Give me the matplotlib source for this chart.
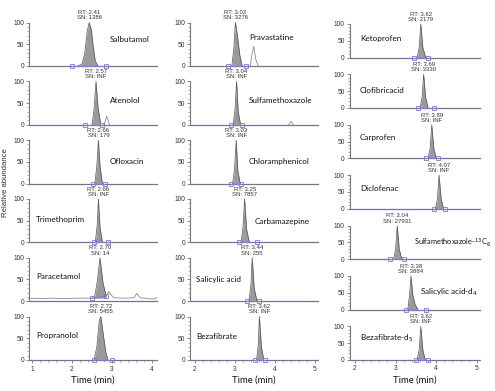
import matplotlib
matplotlib.use("Agg")
import matplotlib.pyplot as plt
from matplotlib.ticker import MultipleLocator

# ---- data ---------------------------------------------------------------
# compound name, RT, SN, label position (t, % abundance) per panel
col1_names = ["Salbutamol", "Atenolol", "Ofloxacin", "Trimethoprim", "Paracetamol", "Propranolol"]
col1_rt = ["2.41", "2.57", "2.66", "2.66", "2.70", "2.72"]
col1_sn = ["1386", "INF", "179", "INF", "14", "5455"]
col1_label_t = [2.95, 2.95, 2.95, 1.1, 1.1, 1.1]
col1_label_y = [60, 56, 50, 53, 56, 57]

col2_names = ["Pravastatine", "Sulfamethoxazole", "Chloramphenicol", "Carbamazepine", "Salicylic acid", "Bezafibrate"]
col2_rt = ["3.02", "3.04", "3.03", "3.25", "3.44", "3.62"]
col2_sn = ["3276", "INF", "INF", "7857", "255", "INF"]
col2_label_t = [3.35, 3.35, 3.35, 3.48, 2.02, 2.02]
col2_label_y = [66, 57, 50, 49, 51, 55]

col3_names = ["Ketoprofen", "Clofibricacid", "Carprofen", "Diclofenac",
              r"Sulfamethoxazole-$^{13}$C$_6$", r"Salicylic acid-d$_4$", r"Bezafibrate-d$_5$"]
col3_rt = ["3.62", "3.69", "3.89", "4.07", "3.04", "3.38", "3.62"]
col3_sn = ["2179", "3330", "INF", "INF", "27931", "3884", "INF"]
col3_label_t = [2.12, 2.12, 2.12, 2.12, 3.45, 3.6, 2.12]
col3_label_y = [56, 53, 62, 59, 49, 51, 65]

# main (filled) peak traces: time (min), relative abundance (%)
salbutamol_t = [2.15, 2.25, 2.32, 2.38, 2.43, 2.48, 2.53, 2.58, 2.65]
salbutamol_y = [0, 5, 30, 80, 100, 85, 45, 12, 0]
atenolol_t = [2.50, 2.55, 2.60, 2.65, 2.72]
atenolol_y = [0, 35, 100, 40, 0]
ofloxacin_t = [2.57, 2.62, 2.66, 2.70, 2.76]
ofloxacin_y = [0, 40, 100, 40, 0]
trimethoprim_t = [2.58, 2.63, 2.66, 2.70, 2.76]
trimethoprim_y = [0, 40, 100, 35, 0]
paracetamol_t = [2.56, 2.63, 2.70, 2.77, 2.85]
paracetamol_y = [7, 45, 100, 45, 12]
propranolol_t = [2.55, 2.62, 2.68, 2.72, 2.78, 2.85, 2.90]
propranolol_y = [0, 30, 90, 100, 60, 15, 0]

pravastatine_t = [2.92, 2.97, 3.01, 3.06, 3.12, 3.18]
pravastatine_y = [0, 40, 100, 70, 25, 0]
sulfamethoxazole_t = [2.95, 3.00, 3.04, 3.08, 3.14]
sulfamethoxazole_y = [0, 35, 100, 30, 0]
chloramphenicol_t = [2.94, 2.99, 3.03, 3.07, 3.13]
chloramphenicol_y = [0, 35, 100, 30, 0]
carbamazepine_t = [3.15, 3.20, 3.24, 3.29, 3.36]
carbamazepine_y = [0, 35, 100, 30, 0]
salicylic_t = [3.35, 3.40, 3.43, 3.48, 3.55]
salicylic_y = [0, 40, 100, 30, 0]
bezafibrate_t = [3.54, 3.58, 3.61, 3.66, 3.72]
bezafibrate_y = [0, 35, 100, 30, 0]

ketoprofen_t = [3.53, 3.58, 3.62, 3.67, 3.74]
ketoprofen_y = [0, 30, 100, 30, 0]
clofibric_t = [3.60, 3.65, 3.69, 3.74, 3.80]
clofibric_y = [0, 30, 100, 30, 0]
carprofen_t = [3.80, 3.85, 3.89, 3.94, 4.00]
carprofen_y = [0, 30, 100, 30, 0]
diclofenac_t = [3.98, 4.03, 4.07, 4.12, 4.18]
diclofenac_y = [0, 30, 100, 30, 0]
sulfa13c_t = [2.95, 3.00, 3.04, 3.09, 3.15]
sulfa13c_y = [0, 30, 100, 30, 0]
salicylic_d4_t = [3.30, 3.34, 3.38, 3.42, 3.48, 3.55]
salicylic_d4_y = [0, 40, 100, 45, 15, 0]
bezafibrate_d5_t = [3.53, 3.58, 3.62, 3.67, 3.73]
bezafibrate_d5_y = [0, 30, 100, 30, 0]

col1_peaks = [(salbutamol_t, salbutamol_y), (atenolol_t, atenolol_y), (ofloxacin_t, ofloxacin_y),
              (trimethoprim_t, trimethoprim_y), (paracetamol_t, paracetamol_y),
              (propranolol_t, propranolol_y)]
col2_peaks = [(pravastatine_t, pravastatine_y), (sulfamethoxazole_t, sulfamethoxazole_y),
              (chloramphenicol_t, chloramphenicol_y), (carbamazepine_t, carbamazepine_y),
              (salicylic_t, salicylic_y), (bezafibrate_t, bezafibrate_y)]
col3_peaks = [(ketoprofen_t, ketoprofen_y), (clofibric_t, clofibric_y), (carprofen_t, carprofen_y),
              (diclofenac_t, diclofenac_y), (sulfa13c_t, sulfa13c_y),
              (salicylic_d4_t, salicylic_d4_y), (bezafibrate_d5_t, bezafibrate_d5_y)]

# integration boundaries (blue squares)
col1_bounds = [(2.00, 2.85), (2.33, 2.75), (2.53, 2.83), (2.55, 2.90), (2.50, 2.85), (2.55, 3.00)]
col2_bounds = [(2.83, 3.28), (2.90, 3.17), (2.90, 3.15), (3.10, 3.55), (3.30, 3.60), (3.50, 3.75)]
col3_bounds = [(3.45, 3.80), (3.55, 3.95), (3.75, 4.05), (3.95, 4.22), (2.85, 3.20), (3.25, 3.75), (3.50, 3.80)]

# secondary (unfilled) traces
paracetamol_base_t = [0.92, 1.2, 1.5, 1.8, 2.1, 2.4, 2.56, 2.85, 2.92, 2.97, 3.05, 3.3, 3.55,
                      3.62, 3.70, 3.90, 4.05, 4.12]
paracetamol_base_y = [7, 6, 7, 6, 7, 7, 7, 12, 22, 15, 8, 7, 8, 18, 8, 6, 5, 8]
atenolol_2nd_t = [2.80, 2.87, 2.94]
atenolol_2nd_y = [0, 20, 0]
pravastatine_2nd_t = [3.38, 3.43, 3.47, 3.52, 3.58]
pravastatine_2nd_y = [0, 30, 45, 15, 0]
sulfamethoxazole_2nd_t = [4.34, 4.40, 4.46]
sulfamethoxazole_2nd_y = [0, 8, 0]

col1_extra = [None, (atenolol_2nd_t, atenolol_2nd_y), None, None,
              (paracetamol_base_t, paracetamol_base_y), None]
col2_extra = [(pravastatine_2nd_t, pravastatine_2nd_y), (sulfamethoxazole_2nd_t, sulfamethoxazole_2nd_y),
              None, None, None, None]
col3_extra = [None] * 7

# ---- styling -------------------------------------------------------------
W, H = 495, 391
AX_COLOR = "#74748f"
FILL = "#9a9a9a"
EDGE = "#555555"
BOUND = "#7a7ad0"
TXT = "#333333"
NAME_FONT = ["Lato", "DejaVu Sans"]
SMALL_FONT = ["Liberation Sans", "DejaVu Sans"]

fig = plt.figure(figsize=(W / 100, H / 100), dpi=100)
fig.patch.set_facecolor("white")
name_texts = []


def px_axes(left, zero_y, width, height):
    return fig.add_axes([left / W, (H - zero_y) / H, width / W, height / H])


def draw_panel(ax, xlim, peak, bounds, extra, name, rt, sn, lab_t, lab_y, bottom):
    t, y = peak
    ax.set_xlim(*xlim)
    ax.set_ylim(0, 100)
    ax.axhline(0, color=AX_COLOR, lw=0.9, zorder=1, clip_on=False)
    if extra is not None:
        ax.plot(extra[0], extra[1], color="#8a8a8a", lw=0.6, zorder=2, clip_on=False)
    base = min(y[0], y[-1])
    ax.fill_between(t, y, base, color=FILL, lw=0, zorder=3, clip_on=False)
    ax.plot(t, y, color=EDGE, lw=0.5, zorder=4, clip_on=False)
    b0 = y[0] if extra is not None and base > 0 else 0
    ax.plot(bounds, [b0, y[-1] if b0 else 0], color=BOUND, lw=0.8, zorder=4, clip_on=False)
    ax.plot(bounds, [b0, y[-1] if b0 else 0], ls="none", marker="s", ms=3.2, mfc="none",
            mec=BOUND, mew=0.6, zorder=5, clip_on=False)
    apex = t[y.index(max(y))]
    ax.annotate(f"RT: {rt}\nSN: {sn}", xy=(apex, 100), xytext=(0, 1.5),
                textcoords="offset points", ha="center", va="bottom",
                fontsize=4.3, family=SMALL_FONT, color=TXT, linespacing=1.05)
    name_texts.append(ax.text(lab_t, lab_y, name, fontsize=5.9, family=NAME_FONT,
                              color="#111111", ha="left", va="center"))
    for s in ("top", "right"):
        ax.spines[s].set_visible(False)
    ax.spines["bottom"].set_visible(False)
    ax.spines["left"].set_color(AX_COLOR)
    ax.spines["left"].set_linewidth(0.8)
    ax.set_yticks([0, 50, 100])
    ax.yaxis.set_minor_locator(MultipleLocator(10))
    ax.tick_params(axis="y", which="major", length=2.5, width=0.6, color=AX_COLOR,
                   labelsize=4.8, labelcolor=TXT, pad=1)
    ax.tick_params(axis="y", which="minor", length=1.3, width=0.4, color=AX_COLOR)
    for lbl in ax.get_yticklabels():
        lbl.set_family(SMALL_FONT)
    if bottom:
        ax.xaxis.set_major_locator(MultipleLocator(1))
        ax.xaxis.set_minor_locator(MultipleLocator(0.2))
        ax.tick_params(axis="x", which="major", length=2.5, width=0.6, color=AX_COLOR,
                       labelsize=4.8, labelcolor=TXT, pad=1.5)
        ax.tick_params(axis="x", which="minor", length=1.3, width=0.4, color=AX_COLOR)
        for lbl in ax.get_xticklabels():
            lbl.set_family(SMALL_FONT)
        ax.set_xlabel("Time (min)", fontsize=6.8, family=NAME_FONT, color="#111111", labelpad=2)
    else:
        ax.set_xticks([])
    ax.patch.set_alpha(0)


columns = [
    dict(left=28.8, width=128, xlim=(0.92, 4.12), zero0=66, step=58.8, height=43.5,
         names=col1_names, rt=col1_rt, sn=col1_sn, lt=col1_label_t, ly=col1_label_y,
         peaks=col1_peaks, bounds=col1_bounds, extra=col1_extra),
    dict(left=189.8, width=128, xlim=(1.87, 5.07), zero0=66, step=58.8, height=43.5,
         names=col2_names, rt=col2_rt, sn=col2_sn, lt=col2_label_t, ly=col2_label_y,
         peaks=col2_peaks, bounds=col2_bounds, extra=col2_extra),
    dict(left=349.7, width=130, xlim=(1.87, 5.07), zero0=57.5, step=50.4, height=33.5,
         names=col3_names, rt=col3_rt, sn=col3_sn, lt=col3_label_t, ly=col3_label_y,
         peaks=col3_peaks, bounds=col3_bounds, extra=col3_extra),
]

for col in columns:
    n = len(col["names"])
    for i in range(n):
        zero_y = col["zero0"] + i * col["step"]
        ax = px_axes(col["left"], zero_y, col["width"], col["height"])
        draw_panel(ax, col["xlim"], col["peaks"][i], col["bounds"][i], col["extra"][i],
                   col["names"][i], col["rt"][i], col["sn"][i], col["lt"][i], col["ly"][i],
                   bottom=(i == n - 1))

fig.text(6 / W, 1 - 183 / H, "Relative abundance", rotation=90, ha="center", va="center",
         fontsize=5.6, family=SMALL_FONT, color=TXT)

# shrink any compound label that would run past the right edge
renderer = fig.canvas.get_renderer()
for txt in name_texts:
    while txt.get_window_extent(renderer).x1 > W - 4 and txt.get_fontsize() > 3:
        txt.set_fontsize(txt.get_fontsize() - 0.2)

fig.savefig("out.png", dpi=100)
